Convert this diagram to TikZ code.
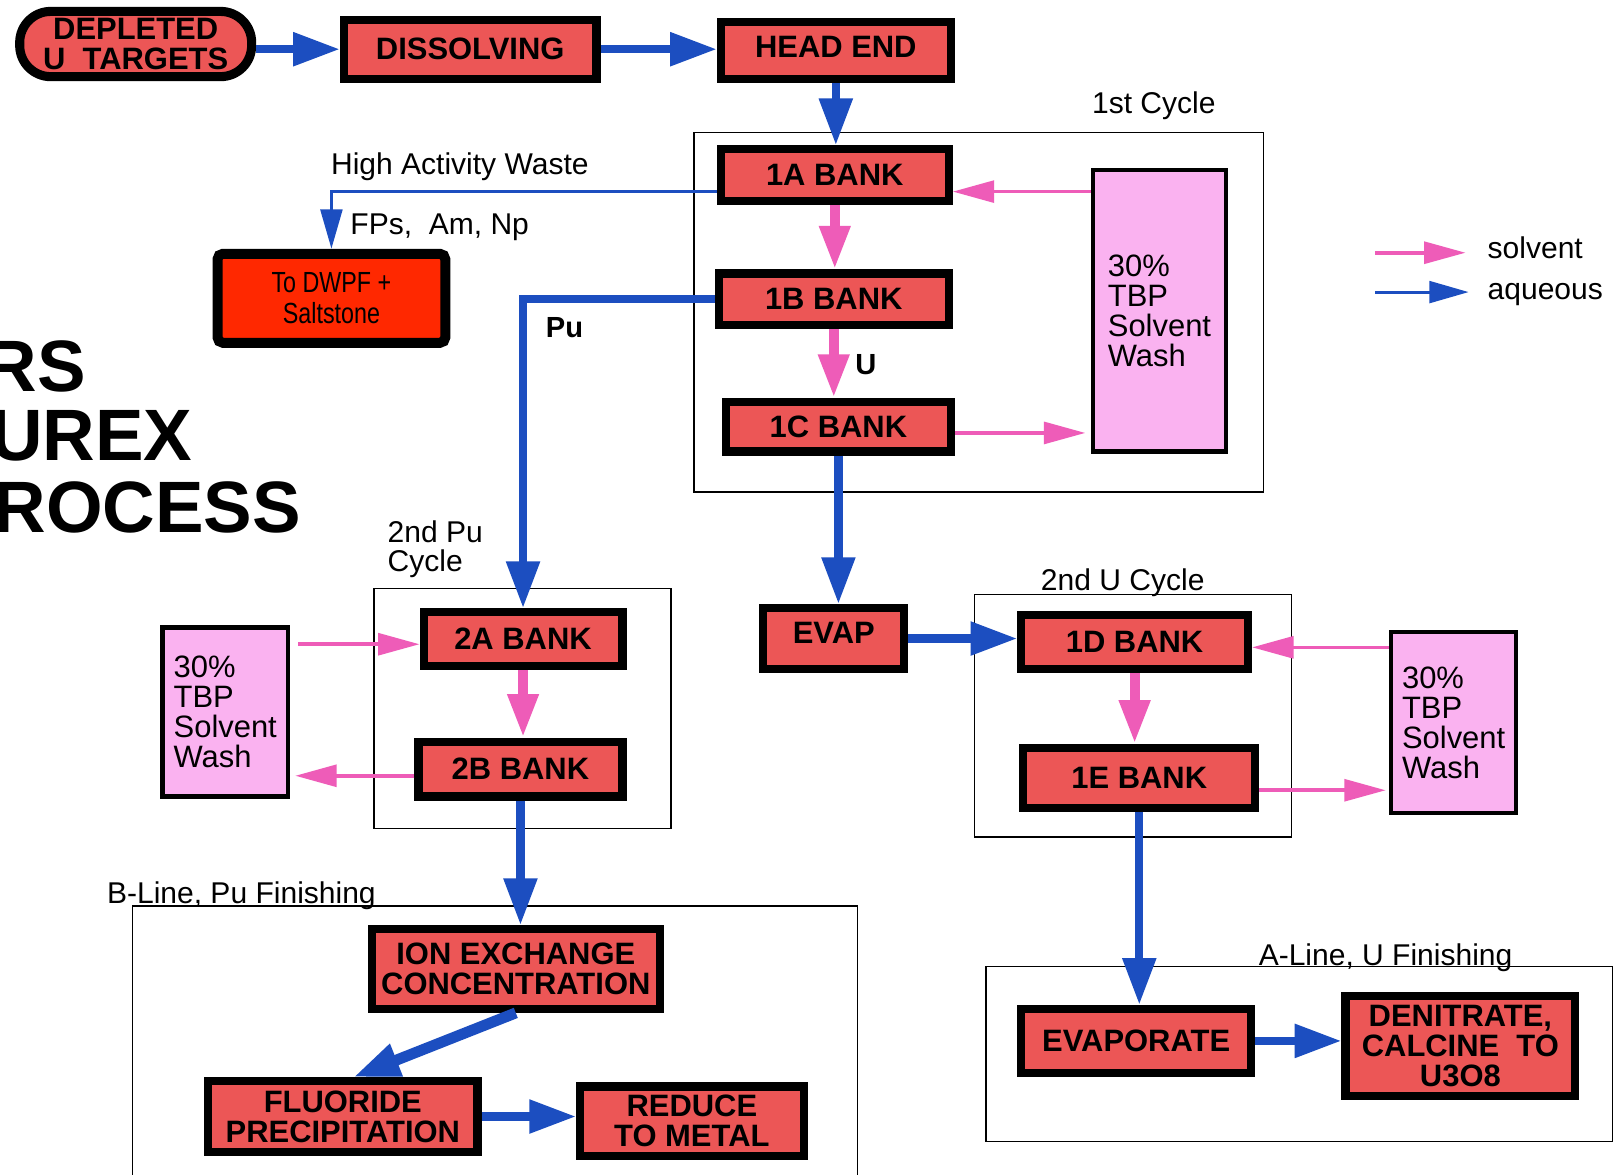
\documentclass[tikz,border=0pt]{standalone}
\usepackage{fontspec}
\setmainfont{Liberation Sans}
\newfontfamily\narrowsans{Liberation Sans}[FakeStretch=0.8]
\usetikzlibrary{arrows.meta}

\definecolor{bankred}{RGB}{236,86,86}
\definecolor{wastered}{RGB}{255,40,0}
\definecolor{washpink}{RGB}{250,178,240}
\definecolor{solvpink}{RGB}{238,92,184}
\definecolor{aqblue}{RGB}{28,78,192}

\begin{document}
\begin{tikzpicture}[x=0.02cm, y=-0.02cm,
    bank/.style={draw=black, line width=4.5pt, fill=bankred, inner sep=0pt, align=center,
        font=\bfseries\fontsize{17}{16.5}\selectfont},
    wash/.style={draw=black, line width=2.4pt, fill=washpink, inner sep=0pt, align=left,
        font=\fontsize{17}{16.5}\selectfont},
    cyclebox/.style={draw=black, line width=0.85pt},
    lbl/.style={font=\fontsize{16.5}{16}\selectfont, inner sep=0pt},
    bigtitle/.style={anchor=east, inner sep=0pt, font=\bfseries\fontsize{40}{40}\selectfont},
    aq/.style={draw=aqblue, line width=4.5pt, -{Triangle[length=0.9cm, width=0.62cm]}},
    aqthin/.style={draw=aqblue, line width=1.7pt, -{Triangle[length=0.76cm, width=0.42cm]}},
    solv/.style={draw=solvpink, line width=5.5pt, -{Triangle[length=0.84cm, width=0.56cm]}},
    solvthin/.style={draw=solvpink, line width=2pt, -{Triangle[length=0.8cm, width=0.42cm]}}]

    \useasboundingbox[fill=white] (0,0) rectangle (1568,1134);

    \draw[cyclebox] (670,128) rectangle (1220,475);
    \draw[cyclebox] (361,568) rectangle (648,800);
    \draw[cyclebox] (941,574) rectangle (1247,808);
    \draw[cyclebox] (128,875) rectangle (828,1160);
    \draw[cyclebox] (952,933) rectangle (1557,1102);

    \node[bigtitle] (titleA) at (83,354) {RS};
    \node[bigtitle] (titleB) at (186,421) {UREX};
    \node[bigtitle] (titleC) at (291,490) {ROCESS};

    \node[bank, line width=5pt, rounded corners=0.6cm, minimum width=4.48cm, minimum height=1.26cm] (dep) at (131,42.5) {DEPLETED\\U~~TARGETS};
    \node[bank, minimum width=4.88cm, minimum height=1.14cm] (diss) at (454,47.5) {DISSOLVING};
    \node[bank, minimum width=4.44cm, minimum height=1.10cm] (head) at (807,48.5) {\raisebox{4pt}{HEAD END}};

    \node[bank, minimum width=4.40cm, minimum height=1.00cm] (bank1A) at (806,169) {1A BANK};
    \node[bank, minimum width=4.44cm, minimum height=1.00cm] (bank1B) at (805,289) {1B BANK};
    \node[bank, minimum width=4.34cm, minimum height=0.96cm] (bank1C) at (809.5,412) {1C BANK};
    \node[wash, minimum width=2.58cm, minimum height=5.44cm] (wash1) at (1119.5,300) {30\%\\TBP\\Solvent\\Wash};

    \node[draw=black, line width=5.5pt, rounded corners=3pt, fill=wastered, minimum width=4.40cm, minimum height=1.72cm,
        align=center, font=\narrowsans\fontsize{16}{17}\selectfont] (dwpf) at (320,288) {To DWPF +\\Saltstone};

    \node[bank, minimum width=3.84cm, minimum height=1.04cm] (bank2A) at (505,617) {2A BANK};
    \node[bank, minimum width=3.94cm, minimum height=1.06cm] (bank2B) at (502.5,742.5) {2B BANK};
    \node[wash, minimum width=2.42cm, minimum height=3.26cm] (wash2) at (217.5,687.5) {30\%\\TBP\\Solvent\\Wash};

    \node[bank, minimum width=2.72cm, minimum height=1.18cm] (evap) at (805,616.5) {\raisebox{6pt}{EVAP}};
    \node[bank, minimum width=4.38cm, minimum height=1.04cm] (bank1D) at (1095.5,620) {1D BANK};
    \node[bank, minimum width=4.48cm, minimum height=1.16cm] (bank1E) at (1100,751) {1E BANK};
    \node[wash, minimum width=2.42cm, minimum height=3.50cm] (wash3) at (1403.5,697.5) {30\%\\TBP\\Solvent\\Wash};

    \node[bank, minimum width=5.56cm, minimum height=1.54cm] (ion) at (498,935.5) {ION EXCHANGE\\CONCENTRATION};
    \node[bank, minimum width=5.20cm, minimum height=1.36cm] (fluor) at (331,1078) {FLUORIDE\\PRECIPITATION};
    \node[bank, minimum width=4.32cm, minimum height=1.34cm] (reduce) at (668,1082.5) {REDUCE\\TO METAL};
    \node[bank, minimum width=4.44cm, minimum height=1.24cm] (evapo) at (1097,1005) {EVAPORATE};
    \node[bank, minimum width=4.44cm, minimum height=1.92cm] (denit) at (1410,1010) {DENITRATE,\\CALCINE~~TO\\U3O8};

    \node[lbl, anchor=base] (cyc1) at (1114,110) {1st Cycle};
    \node[lbl, anchor=base] (haw) at (444,168) {High Activity Waste};
    \node[lbl, anchor=base west] (fps) at (338,226) {FPs,~~Am, Np};
    \node[lbl, anchor=base, font=\bfseries\fontsize{16}{16}\selectfont] (pu) at (545,326) {Pu};
    \node[lbl, anchor=base, font=\bfseries\fontsize{16}{16}\selectfont] (ulbl) at (836,362) {U};
    \node[lbl, anchor=north west, align=left] (cyc2pu) at (374,502) {2nd Pu\\Cycle};
    \node[lbl, anchor=base] (cyc2u) at (1084,570) {2nd U Cycle};
    \node[lbl, anchor=base west] (bline) at (103,872) {B-Line, Pu Finishing};
    \node[lbl, anchor=base west] (aline) at (1215,932) {A-Line, U Finishing};
    \node[lbl, anchor=base west] (solvtxt) at (1436,250) {solvent};
    \node[lbl, anchor=base west] (aqtxt) at (1436,289) {aqueous};

    \draw[aq] (dep.east |- diss.west) -- (diss.west);
    \draw[aq] (diss.east) -- (diss.east -| head.west);
    \draw[aq] (head.south) -- (head.south |- bank1A.north);
    \coordinate (out1A) at ([yshift=-0.32cm]bank1A.west);
    \draw[aqthin] (out1A) -| (dwpf.north);
    \draw[aq] (bank1B.west) -| (bank2A.north);
    \draw[aq] (bank1C.south) -- (bank1C.south |- evap.north);
    \draw[aq] (evap.east) -- (evap.east -| bank1D.west);
    \draw[aq] (bank2B.south) -- (bank2B.south |- ion.north);
    \draw[aq, line width=6pt] (ion.south) -- ([xshift=0.2cm]fluor.north);
    \draw[aq] (fluor.east) -- (fluor.east -| reduce.west);
    \draw[aq] (bank1E.south) -- (bank1E.south |- evapo.north);
    \draw[aq] (evapo.east) -- (evapo.east -| denit.west);

    \draw[solv] (bank1A.south) -- (bank1A.south |- bank1B.north);
    \draw[solv] (bank1B.south) -- (bank1B.south |- bank1C.north);
    \draw[solv] (bank2A.south) -- (bank2A.south |- bank2B.north);
    \draw[solv] (bank1D.south) -- (bank1D.south |- bank1E.north);

    \coordinate (in1A) at ([yshift=-0.32cm]bank1A.east);
    \coordinate (out1C) at ([yshift=-0.12cm]bank1C.east);
    \coordinate (in2A) at ([yshift=-0.1cm]bank2A.west);
    \coordinate (out2B) at ([yshift=-0.13cm]bank2B.west);
    \coordinate (in1D) at ([yshift=-0.1cm]bank1D.east);
    \coordinate (out1E) at ([yshift=-0.24cm]bank1E.east);
    \draw[solvthin] (in1A -| wash1.west) -- (in1A);
    \draw[solvthin, shorten >=0.1cm] (out1C) -- (out1C -| wash1.west);
    \draw[solvthin, shorten <=0.16cm] (in2A -| wash2.east) -- (in2A);
    \draw[solvthin, shorten >=0.1cm] (out2B) -- (out2B -| wash2.east);
    \draw[solvthin] (in1D -| wash3.west) -- (in1D);
    \draw[solvthin, shorten >=0.06cm] (out1E) -- (out1E -| wash3.west);

    \coordinate (solvA) at (1328,244);
    \coordinate (solvB) at (1415,244);
    \coordinate (aqA) at (1328,282);
    \coordinate (aqB) at (1418,282);
    \draw[solvthin] (solvA) -- (solvB);
    \draw[aqthin] (aqA) -- (aqB);
\end{tikzpicture}
\end{document}
